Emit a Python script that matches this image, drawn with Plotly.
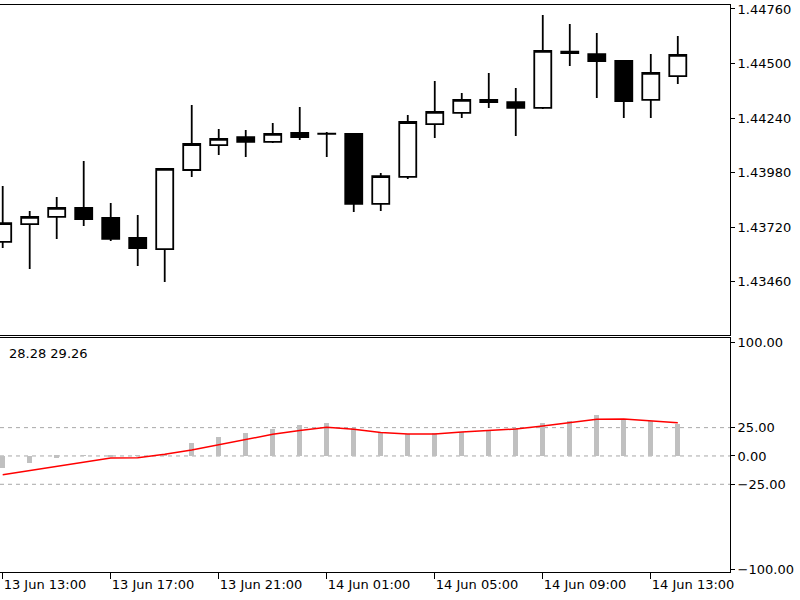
import plotly.graph_objects as go

# ---- data ----
times = [
    "2013-06-13 13:00", "2013-06-13 14:00", "2013-06-13 15:00", "2013-06-13 16:00",
    "2013-06-13 17:00", "2013-06-13 18:00", "2013-06-13 19:00", "2013-06-13 20:00",
    "2013-06-13 21:00", "2013-06-13 22:00", "2013-06-13 23:00", "2013-06-14 00:00",
    "2013-06-14 01:00", "2013-06-14 02:00", "2013-06-14 03:00", "2013-06-14 04:00",
    "2013-06-14 05:00", "2013-06-14 06:00", "2013-06-14 07:00", "2013-06-14 08:00",
    "2013-06-14 09:00", "2013-06-14 10:00", "2013-06-14 11:00", "2013-06-14 12:00",
    "2013-06-14 13:00", "2013-06-14 14:00",
]
open_ = [1.43649, 1.43734, 1.43768, 1.43811, 1.43763, 1.43668, 1.43615, 1.43992,
         1.44111, 1.44149, 1.44126, 1.44169, 1.44165, 1.44164, 1.43830, 1.43959,
         1.44211, 1.44264, 1.44326, 1.44316, 1.44288, 1.44557, 1.44545, 1.44512,
         1.44326, 1.44440]
high = [1.43916, 1.43796, 1.43863, 1.44035, 1.43835, 1.43777, 1.44002, 1.44302,
        1.44188, 1.44183, 1.44216, 1.44293, 1.44173, 1.44165, 1.43978, 1.44254,
        1.44417, 1.44359, 1.44455, 1.44383, 1.44731, 1.44688, 1.44646, 1.44512,
        1.44545, 1.44631]
low = [1.43620, 1.43520, 1.43663, 1.43725, 1.43653, 1.43534, 1.43458, 1.43959,
       1.44064, 1.44054, 1.44121, 1.44135, 1.44054, 1.43792, 1.43796, 1.43949,
       1.44145, 1.44240, 1.44288, 1.44154, 1.44283, 1.44488, 1.44335, 1.44240,
       1.44240, 1.44402]
close = [1.43739, 1.43768, 1.43811, 1.43758, 1.43663, 1.43620, 1.43997, 1.44116,
         1.44140, 1.44126, 1.44164, 1.44149, 1.44164, 1.43830, 1.43963, 1.44221,
         1.44269, 1.44326, 1.44316, 1.44288, 1.44560, 1.44550, 1.44512, 1.44321,
         1.44455, 1.44541]

hist = [-10.9, -6.5, -1.5, 0.3, -0.2, 0.4, 1.0, 11.2, 17.1, 20.0, 23.8, 27.4, 28.8,
        24.4, 20.3, 19.8, 20.0, 21.5, 22.4, 24.4, 29.4, 31.2, 36.2, 32.4, 31.2, 28.28]
signal = [-16.5, -12.7, -8.8, -5.3, -1.8, -1.5, 1.5, 5.3, 9.7, 14.1, 19.1, 22.4, 25.3,
          23.5, 20.8, 19.4, 19.4, 21.2, 22.4, 23.8, 26.5, 29.5, 32.4, 32.6, 31.2, 29.26]

price_ticks = [1.44760, 1.44500, 1.44240, 1.43980, 1.43720, 1.43460]
ind_ticks = [100, 25, 0, -25, -100]
ind_levels = [25, 0, -25]
time_ticks = ["2013-06-13 13:00", "2013-06-13 17:00", "2013-06-13 21:00",
              "2013-06-14 01:00", "2013-06-14 05:00", "2013-06-14 09:00",
              "2013-06-14 13:00"]
value_label = "28.28 29.26"

FONT = dict(family="DejaVu Sans", size=13, color="black")
x_range = ["2013-06-13 12:54", "2013-06-14 15:56"]

fig = go.Figure()

fig.add_trace(go.Candlestick(
    x=times, open=open_, high=high, low=low, close=close,
    increasing=dict(line=dict(color="black", width=1.8), fillcolor="white"),
    decreasing=dict(line=dict(color="black", width=1.8), fillcolor="black"),
    whiskerwidth=0, xaxis="x", yaxis="y", showlegend=False,
))

fig.add_trace(go.Bar(
    x=times, y=hist, marker=dict(color="#c0c0c0", line=dict(width=0)),
    width=3600000 * 0.2, xaxis="x2", yaxis="y2", showlegend=False,
))
fig.add_trace(go.Scatter(
    x=times, y=signal, mode="lines", line=dict(color="#ff0000", width=1.5),
    xaxis="x2", yaxis="y2", showlegend=False,
))

for lv in ind_levels:
    fig.add_shape(type="line", xref="x2 domain", yref="y2", x0=0, x1=1, y0=lv, y1=lv,
                  line=dict(color="#a8a8a8", width=1, dash="4px,4px"), layer="below")

fig.add_annotation(text=value_label, xref="paper", yref="paper", x=0.0096, y=0.386,
                   xanchor="left", yanchor="middle", showarrow=False, font=FONT)

fig.update_layout(
    width=800, height=600,
    margin=dict(l=0, r=70, t=5, b=28),
    paper_bgcolor="white", plot_bgcolor="white",
    font=FONT,
    boxgap=0.37, boxgroupgap=0,
    bargap=0,
    xaxis=dict(domain=[0, 1], anchor="y", range=x_range, type="date",
               showticklabels=False, ticks="", showgrid=False, zeroline=False,
               showline=True, mirror=True, linecolor="black", linewidth=1,
               rangeslider=dict(visible=False), matches="x2"),
    yaxis=dict(domain=[0.418, 1], anchor="x", side="right", range=[1.43205, 1.44779],
               tickvals=price_ticks, tickformat=".5f", ticks="outside", ticklen=4,
               tickcolor="black", showgrid=False, zeroline=False,
               showline=True, linecolor="black", linewidth=1, tickfont=FONT),
    xaxis2=dict(domain=[0, 1], anchor="y2", range=x_range, type="date",
                tickvals=time_ticks, tickformat="%d %b %H:%M", ticks="outside",
                ticklen=6, tickcolor="black", ticklabelposition="outside right",
                showgrid=False, zeroline=False, showline=True, mirror=True,
                linecolor="black", linewidth=1, tickfont=FONT),
    yaxis2=dict(domain=[0, 0.4127], anchor="x2", side="right", range=[-102.4, 104.1],
                tickvals=ind_ticks, tickformat=".2f", ticks="outside", ticklen=4,
                tickcolor="black", showgrid=False, zeroline=False,
                showline=True, linecolor="black", linewidth=1, tickfont=FONT),
)

fig.write_html("out.html")
